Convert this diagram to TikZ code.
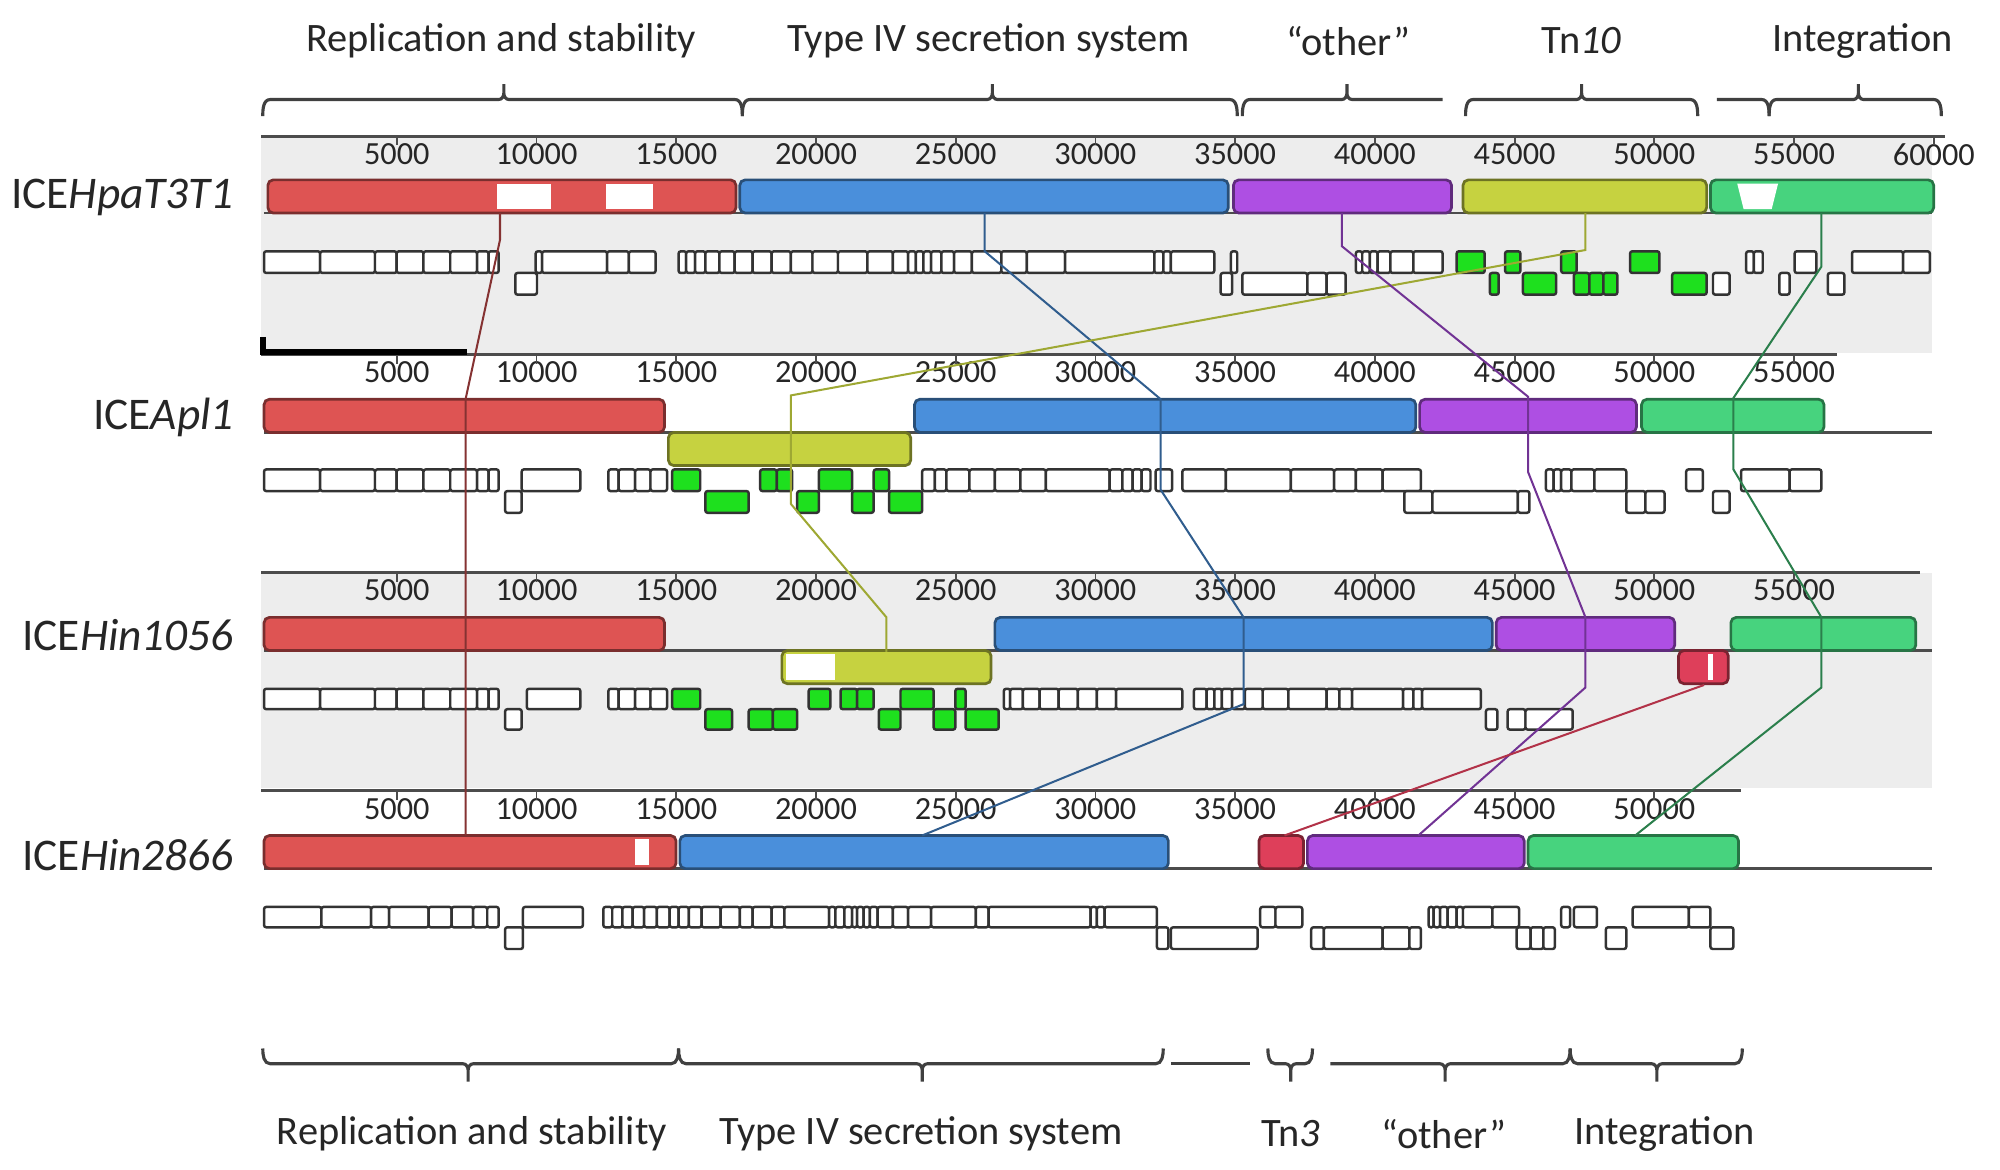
\documentclass[tikz,border=0pt]{standalone}
\usepackage{fontspec}
\setmainfont{Carlito}
\definecolor{lcbred}{HTML}{DE5453}
\definecolor{lcbblue}{HTML}{4A8FDB}
\definecolor{lcbpurple}{HTML}{AE4FE3}
\definecolor{lcbolive}{HTML}{C6D240}
\definecolor{lcbgreen}{HTML}{47D37E}
\definecolor{lcbpink}{HTML}{DE3F5A}
\definecolor{genegreen}{HTML}{1EE01E}
\definecolor{panelgray}{HTML}{EDEDED}
\tikzset{
  lcb/.style={draw=#1!55!black, fill=#1, line width=0.6pt, rounded corners=1.2pt},
  gene/.style={draw=black!80, fill=white, line width=0.55pt, rounded corners=0.5pt},
  tngene/.style={gene, fill=genegreen, draw=black!80},
  ruler/.style={draw=black!70, line width=0.6pt},
  tickmark/.style={draw=black!70, line width=0.4pt},
  ticklabel/.style={font=\fontsize{7.2}{8}\selectfont, text=black!85, inner sep=0pt},
  secbrace/.style={draw=black!75, line width=0.7pt},
  seclabel/.style={font=\fontsize{9}{11}\selectfont, text=black!85, inner sep=0pt},
  icelabel/.style={font=\fontsize{10.1}{12}\selectfont, text=black!85, anchor=east, inner sep=0pt},
  link/.style={draw=#1, line width=0.45pt}
}
\begin{document}
\begin{tikzpicture}[x=0.01cm, y=-0.01cm]
	\useasboundingbox (0,0) rectangle (1568,917);
	% grey panels behind genomes 1 and 3
	\fill[panelgray] (205,107) rectangle (1515,277);
	\fill[panelgray] (205,449) rectangle (1515,618);
	% rulers
	\foreach \r/\y/\n/\e in {a/107/12/1525, b/278/11/1440, c/449/11/1505, d/620/10/1365} {
		\draw[ruler] (205,\y) -- (\e,\y);
		\foreach \k in {1,...,\n} {
			\node[ticklabel] (\r\k) at ({201.5+109.55*\k},\y+14) {\the\numexpr\k*5000\relax};
			\draw[tickmark] ({201.5+109.55*\k},\y) -- ++(0,7);
		}
	}
	\draw[line width=1.4pt] (206,264) -- (206,276) -- (366,276);
	% baselines
	\foreach \c in {167,339,510,681}
		\draw[ruler] (207,\c) -- (1515,\c);
	% genome labels
	\node[icelabel] (ice1) at (184,155) {ICE\textit{HpaT3T1}};
	\node[icelabel] (ice2) at (184,327) {ICE\textit{Apl1}};
	\node[icelabel] (ice3) at (184,498) {ICE\textit{Hin1056}};
	\node[icelabel] (ice4) at (184,670) {ICE\textit{Hin2866}};
	% locally collinear blocks
	\foreach \a/\b/\t/\c in {210/577/141/lcbred, 580/963/141/lcbblue, 967/1138/141/lcbpurple, 1147/1338/141/lcbolive, 1341/1516/141/lcbgreen,
		207/521/313/lcbred, 524/714/339/lcbolive, 717/1110/313/lcbblue, 1113/1283/313/lcbpurple, 1287/1430/313/lcbgreen,
		207/521/484/lcbred, 613/777/510/lcbolive, 780/1170/484/lcbblue, 1173/1313/484/lcbpurple, 1316/1355/510/lcbpink, 1357/1502/484/lcbgreen,
		207/530/655/lcbred, 533/916/655/lcbblue, 987/1022/655/lcbpink, 1025/1195/655/lcbpurple, 1198/1363/655/lcbgreen}
		\draw[lcb=\c] (\a,\t) rectangle (\b,\t+26);
	\fill[white] (390,144) rectangle (432,164);
	\fill[white] (475,144) rectangle (512,164);
	\fill[white] (1362,144) -- (1394,144) -- (1389,164) -- (1367,164) -- cycle;
	\fill[white] (616,513) rectangle (655,533);
	\fill[white] (1339,513) rectangle (1343,533);
	\fill[white] (498,658) rectangle (509,678);
	% genes, genome 1
	\foreach \a/\b in {207/251,251/294,294/311,311/332,332/353,353/374,374/383,383/391,420/425,425/476,476/493,493/514,
		532/538,538/545,545/553,553/564,564/576,576/590,590/605,605/620,620/637,637/657,657/680,680/700,700/712,712/718,718/724,724/730,730/738,738/748,748/762,762/785,785/805,805/835,835/905,905/912,912/918,918/952,
		965/970,1063/1068,1068/1074,1074/1080,1080/1090,1090/1108,1108/1131,1369/1375,1375/1382,1407/1424,1452/1492,1492/1513}
		\draw[gene] (\a,197) rectangle (\b,214);
	\foreach \a/\b in {404/421,957/966,974/1025,1025/1040,1040/1055,1343/1356,1395/1403,1433/1446}
		\draw[gene] (\a,214) rectangle (\b,231);
	\foreach \a/\b in {1142/1164,1180/1192,1224/1236,1278/1301}
		\draw[tngene] (\a,197) rectangle (\b,214);
	\foreach \a/\b in {1168/1175,1194/1220,1234/1246,1246/1257,1257/1268,1311/1338}
		\draw[tngene] (\a,214) rectangle (\b,231);
	% genes, genome 2
	\foreach \a/\b in {207/251,251/294,294/311,311/332,332/353,353/374,374/383,383/391,409/455,477/485,485/498,498/510,510/523,
		723/733,733/742,742/760,760/780,780/800,800/820,820/870,870/880,880/888,888/895,895/902,906/919,927/961,961/1012,1012/1046,1046/1063,1063/1084,1084/1114,
		1212/1218,1218/1224,1224/1232,1232/1250,1250/1275,1322/1335,1365/1403,1403/1428}
		\draw[gene] (\a,368) rectangle (\b,385);
	\foreach \a/\b in {396/409,1101/1123,1123/1190,1190/1199,1275/1290,1290/1305,1343/1356}
		\draw[gene] (\a,385) rectangle (\b,402);
	\foreach \a/\b in {527/549,596/609,609/621,642/668,685/697}
		\draw[tngene] (\a,368) rectangle (\b,385);
	\foreach \a/\b in {553/587,625/642,668/685,697/723}
		\draw[tngene] (\a,385) rectangle (\b,402);
	% genes, genome 3
	\foreach \a/\b in {207/251,251/294,294/311,311/332,332/353,353/374,374/383,383/391,413/455,477/485,485/498,498/510,510/523,
		787/792,792/802,802/815,815/830,830/845,845/860,860/875,875/927,936/946,946/952,952/958,958/966,966/976,976/990,990/1010,1010/1040,1040/1050,1050/1060,1060/1100,1100/1108,1108/1115,1115/1161}
		\draw[gene] (\a,540) rectangle (\b,556);
	\foreach \a/\b in {396/409,1165/1174,1182/1196,1196/1233}
		\draw[gene] (\a,556) rectangle (\b,572);
	\foreach \a/\b in {527/549,634/651,659/672,672/685,706/732,749/757}
		\draw[tngene] (\a,540) rectangle (\b,556);
	\foreach \a/\b in {553/574,587/606,606/625,689/706,732/749,757/783}
		\draw[tngene] (\a,556) rectangle (\b,572);
	% genes, genome 4
	\foreach \a/\b in {207/252,252/291,291/305,305/336,336/354,354/371,371/382,382/391,410/457,
		473/480,480/488,488/496,496/505,505/515,515/525,525/532,532/540,540/550,550/565,565/580,580/590,590/605,605/615,615/650,650/655,655/662,662/668,668/672,672/677,677/682,682/688,688/700,700/712,712/730,730/765,765/775,775/855,855/860,860/866,866/907,
		988/1000,1000/1021,1120/1124,1124/1129,1129/1135,1135/1142,1142/1147,1147/1170,1170/1191,1224/1231,1234/1252,1280/1324,1324/1341}
		\draw[gene] (\a,711) rectangle (\b,727);
	\foreach \a/\b in {396/410,907/916,918/986,1028/1038,1038/1084,1084/1105,1105/1114,1189/1200,1200/1210,1210/1219,1259/1275,1341/1359}
		\draw[gene] (\a,727) rectangle (\b,744);
	% connectors between blocks
	\coordinate (r1) at (392,167);   \coordinate (r4) at (365,655);
	\coordinate (b1) at (772,167);   \coordinate (b4) at (723,655);
	\coordinate (o1) at (1243,167);  \coordinate (o3) at (695,511);
	\coordinate (p1) at (1052,167);  \coordinate (p4) at (1112,655);
	\coordinate (g1) at (1428,167);  \coordinate (g4) at (1282,655);
	\coordinate (k3) at (1336,537);  \coordinate (k4) at (1007,655);
	\draw[link=lcbred!60!black] (r1) -- (392,188) -- (365,313) -- (r4);
	\draw[link=lcbblue!65!black] (b1) -- (772,197) -- (910,313) -- (910,384) -- (975,484) -- (975,552) -- (b4);
	\draw[link=lcbolive!80!black] (o1) -- (1243,196) -- (620,310) -- (620,395) -- (695,484) -- (o3);
	\draw[link=lcbpurple!65!black] (p1) -- (1052,193) -- (1198,311) -- (1198,370) -- (1243,484) -- (1243,539) -- (p4);
	\draw[link=lcbgreen!60!black] (g1) -- (1428,209) -- (1359,312) -- (1359,368) -- (1428,484) -- (1428,539) -- (g4);
	\draw[link=lcbpink!80!black] (k3) -- (k4);
	% braces, top
	\foreach \a/\m/\b in {206/395/582, 582/778/970, 1149/1240/1331, 1387/1457/1522}
		\draw[secbrace] (\a,91) to[out=90,in=180] (\a+6,78) -- (\m-4,78) to[out=0,in=-90] (\m,73) -- (\m,66)
			(\m,73) to[out=-90,in=180] (\m+4,78) -- (\b-6,78) to[out=0,in=90] (\b,91);
	\draw[secbrace] (974,91) to[out=90,in=180] (980,78) -- (1052,78) to[out=0,in=-90] (1056,73) -- (1056,66)
		(1056,73) to[out=-90,in=180] (1060,78) -- (1131,78);
	\draw[secbrace] (1346,78) -- (1381,78) to[out=0,in=90] (1387,91);
	% braces, bottom
	\foreach \a/\m/\b in {206/367/532, 532/723/912, 994/1012/1029, 1231/1299/1366}
		\draw[secbrace] (\a,822) to[out=-90,in=180] (\a+6,834) -- (\m-4,834) to[out=0,in=90] (\m,839) -- (\m,848)
			(\m,839) to[out=90,in=180] (\m+4,834) -- (\b-6,834) to[out=0,in=-90] (\b,822);
	\draw[secbrace] (918,834) -- (980,834);
	\draw[secbrace] (1043,834) -- (1129,834) to[out=0,in=90] (1133,839) -- (1133,848)
		(1133,839) to[out=90,in=180] (1137,834) -- (1225,834) to[out=0,in=-90] (1231,822);
	% section labels
	\node[seclabel] (toprep) at (393,32) {Replication and stability};
	\node[seclabel] (topt4ss) at (775,32) {Type IV secretion system};
	\node[seclabel] (topother) at (1057,32) {“other”};
	\node[seclabel] (toptn) at (1240,32) {Tn\textit{10}};
	\node[seclabel] (topint) at (1460,32) {Integration};
	\node[seclabel] (botrep) at (370,889) {Replication and stability};
	\node[seclabel] (bott4ss) at (722,889) {Type IV secretion system};
	\node[seclabel] (bottn) at (1012,889) {Tn\textit{3}};
	\node[seclabel] (botother) at (1132,889) {“other”};
	\node[seclabel] (botint) at (1305,889) {Integration};
\end{tikzpicture}
\end{document}
